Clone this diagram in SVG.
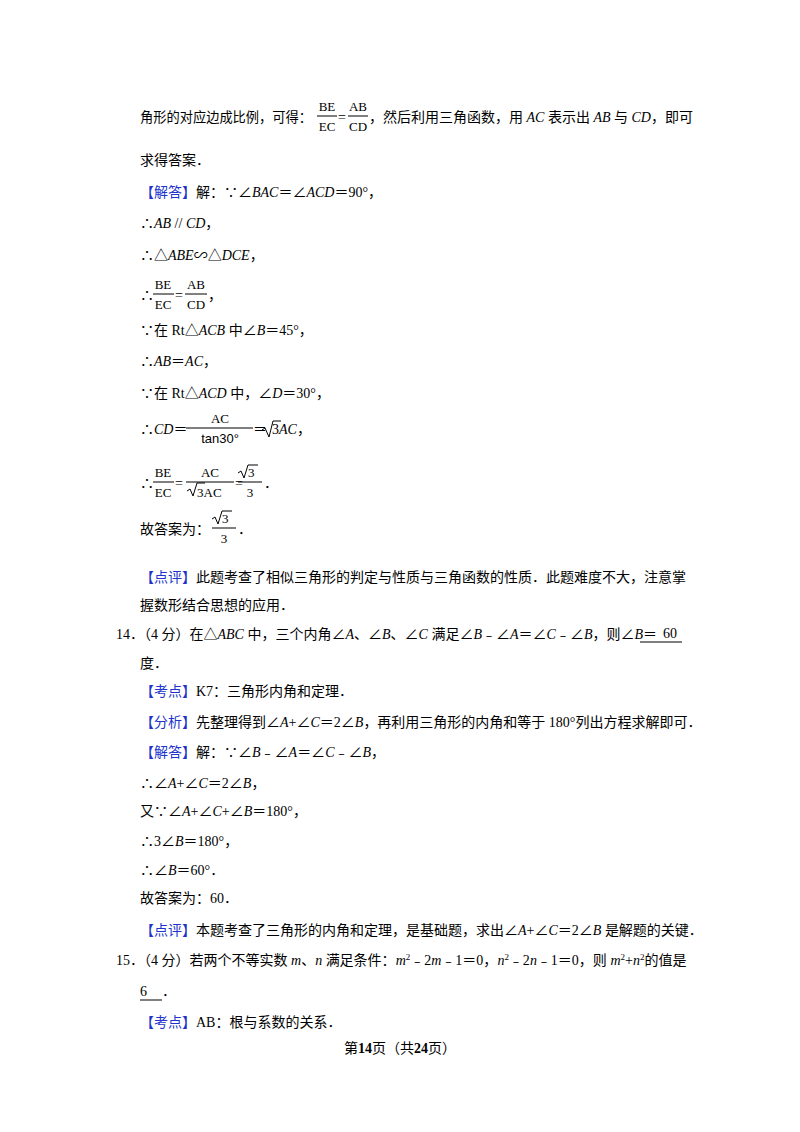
<svg xmlns="http://www.w3.org/2000/svg" width="800" height="1132" viewBox="0 0 800 1132">
<style>
text{font-family:"Liberation Serif","Noto Sans CJK SC",serif;font-size:14px;fill:#000}
.i{font-style:italic}
.b{fill:#2233cc}
.s{font-size:13px}
line{stroke:#000;stroke-width:1}
</style>
<rect width="800" height="1132" fill="#fff"/>
<g id="text">
<text x="140" y="122" textLength="172" lengthAdjust="spacingAndGlyphs">角形的对应边成比例，可得：</text>
<text x="327" y="111" class="s" text-anchor="middle">BE</text><line x1="317" y1="116" x2="337" y2="116"/><text x="327" y="131" class="s" text-anchor="middle">EC</text>
<text x="338" y="122">=</text>
<text x="358" y="111" class="s" text-anchor="middle">AB</text><line x1="348" y1="116" x2="368" y2="116"/><text x="358" y="131" class="s" text-anchor="middle">CD</text>
<text x="369" y="122">，然后利用三角函数，用 <tspan class="i">AC</tspan> 表示出 <tspan class="i">AB</tspan> 与 <tspan class="i">CD</tspan>，即可</text>
<text x="140" y="165">求得答案．</text>
<text x="140" y="197"><tspan class="b">【解答】</tspan>解：∵∠<tspan class="i">BAC</tspan>＝∠<tspan class="i">ACD</tspan>＝90°，</text>
<text x="140" y="228">∴<tspan class="i">AB</tspan> // <tspan class="i">CD</tspan>，</text>
<text x="140" y="260">∴△<tspan class="i">ABE</tspan>∽△<tspan class="i">DCE</tspan>，</text>
<text x="140" y="300">∴</text>
<text x="163" y="289" class="s" text-anchor="middle">BE</text><line x1="153" y1="294" x2="174" y2="294"/><text x="163" y="309" class="s" text-anchor="middle">EC</text>
<text x="175" y="300">=</text>
<text x="196" y="289" class="s" text-anchor="middle">AB</text><line x1="185" y1="294" x2="207" y2="294"/><text x="196" y="309" class="s" text-anchor="middle">CD</text>
<text x="208" y="300">，</text>
<text x="140" y="335">∵在 Rt△<tspan class="i">ACB</tspan> 中∠<tspan class="i">B</tspan>＝45°，</text>
<text x="140" y="366">∴<tspan class="i">AB</tspan>＝<tspan class="i">AC</tspan>，</text>
<text x="140" y="398">∵在 Rt△<tspan class="i">ACD</tspan> 中，∠<tspan class="i">D</tspan>＝30°，</text>
<text x="140" y="434">∴<tspan class="i">CD</tspan>＝</text>
<text x="220" y="423" class="s" text-anchor="middle">AC</text><line x1="186" y1="428" x2="253" y2="428"/><text x="220" y="443" class="s" text-anchor="middle" style="font-family:'Liberation Sans',sans-serif">tan30°</text>
<text x="253" y="434">＝</text>
<path d="M262,430 l3,-2 l4,9 l4,-16 h8" fill="none" stroke="#000"/>
<text x="272" y="434">3<tspan class="i">AC</tspan>，</text>
<text x="140" y="488">∴</text>
<text x="163" y="477" class="s" text-anchor="middle">BE</text><line x1="153" y1="482" x2="174" y2="482"/><text x="163" y="497" class="s" text-anchor="middle">EC</text>
<text x="175" y="488">=</text>
<text x="210" y="477" class="s" text-anchor="middle">AC</text><line x1="186" y1="482" x2="234" y2="482"/>
<path d="M187,491 l3,-2 l3,7 l4,-13 h8" fill="none" stroke="#000"/><text x="197" y="497" class="s">3AC</text>
<text x="235" y="488">=</text>
<text x="248" y="477" class="s">3</text><path d="M238,473 l3,-2 l3,7 l4,-13 h10" fill="none" stroke="#000"/><line x1="238" y1="482" x2="262" y2="482"/><text x="250" y="497" class="s" text-anchor="middle">3</text>
<text x="264" y="488">．</text>
<text x="140" y="534">故答案为：</text>
<text x="222" y="523" class="s">3</text><path d="M212,519 l3,-2 l3,7 l4,-13 h10" fill="none" stroke="#000"/><line x1="212" y1="528" x2="236" y2="528"/><text x="224" y="543" class="s" text-anchor="middle">3</text>
<text x="238" y="534">．</text>
<text x="140" y="582"><tspan class="b">【点评】</tspan>此题考查了相似三角形的判定与性质与三角函数的性质．此题难度不大，注意掌</text>
<text x="140" y="610">握数形结合思想的应用．</text>
<text x="116" y="639">14．（4 分）在△<tspan class="i">ABC</tspan> 中，三个内角∠<tspan class="i">A</tspan>、∠<tspan class="i">B</tspan>、∠<tspan class="i">C</tspan> 满足∠<tspan class="i">B</tspan>﹣∠<tspan class="i">A</tspan>＝∠<tspan class="i">C</tspan>﹣∠<tspan class="i">B</tspan>，则∠<tspan class="i">B</tspan>＝</text>
<text x="663" y="638">60</text><line x1="640" y1="642" x2="682" y2="642"/>
<text x="140" y="668">度．</text>
<text x="140" y="696"><tspan class="b">【考点】</tspan>K7：三角形内角和定理．</text>
<text x="140" y="727"><tspan class="b">【分析】</tspan>先整理得到∠<tspan class="i">A</tspan>+∠<tspan class="i">C</tspan>＝2∠<tspan class="i">B</tspan>，再利用三角形的内角和等于 180°列出方程求解即可．</text>
<text x="140" y="757"><tspan class="b">【解答】</tspan>解：∵∠<tspan class="i">B</tspan>﹣∠<tspan class="i">A</tspan>＝∠<tspan class="i">C</tspan>﹣∠<tspan class="i">B</tspan>，</text>
<text x="140" y="788">∴∠<tspan class="i">A</tspan>+∠<tspan class="i">C</tspan>＝2∠<tspan class="i">B</tspan>，</text>
<text x="140" y="816">又∵∠<tspan class="i">A</tspan>+∠<tspan class="i">C</tspan>+∠<tspan class="i">B</tspan>＝180°，</text>
<text x="140" y="846">∴3∠<tspan class="i">B</tspan>＝180°，</text>
<text x="140" y="875">∴∠<tspan class="i">B</tspan>＝60°．</text>
<text x="140" y="903">故答案为：60．</text>
<text x="140" y="935"><tspan class="b">【点评】</tspan>本题考查了三角形的内角和定理，是基础题，求出∠<tspan class="i">A</tspan>+∠<tspan class="i">C</tspan>＝2∠<tspan class="i">B</tspan> 是解题的关键．</text>
<text x="116" y="965">15．（4 分）若两个不等实数 <tspan class="i">m</tspan>、<tspan class="i">n</tspan> 满足条件：<tspan class="i">m</tspan><tspan dy="-5" font-size="9">2</tspan><tspan dy="5">﹣2</tspan><tspan class="i">m</tspan>﹣1＝0，<tspan class="i">n</tspan><tspan dy="-5" font-size="9">2</tspan><tspan dy="5">﹣2</tspan><tspan class="i">n</tspan>﹣1＝0，则 <tspan class="i">m</tspan><tspan dy="-5" font-size="9">2</tspan><tspan dy="5">+</tspan><tspan class="i">n</tspan><tspan dy="-5" font-size="9">2</tspan><tspan dy="5">的值是</tspan></text>
<text x="140" y="996">6</text><line x1="140" y1="1000" x2="162" y2="1000"/><text x="162" y="996">．</text>
<text x="140" y="1027"><tspan class="b">【考点】</tspan>AB：根与系数的关系．</text>
<text x="400" y="1053" text-anchor="middle" font-size="13">第<tspan font-weight="bold">14</tspan>页（共<tspan font-weight="bold">24</tspan>页）</text>
</g>
</svg>
